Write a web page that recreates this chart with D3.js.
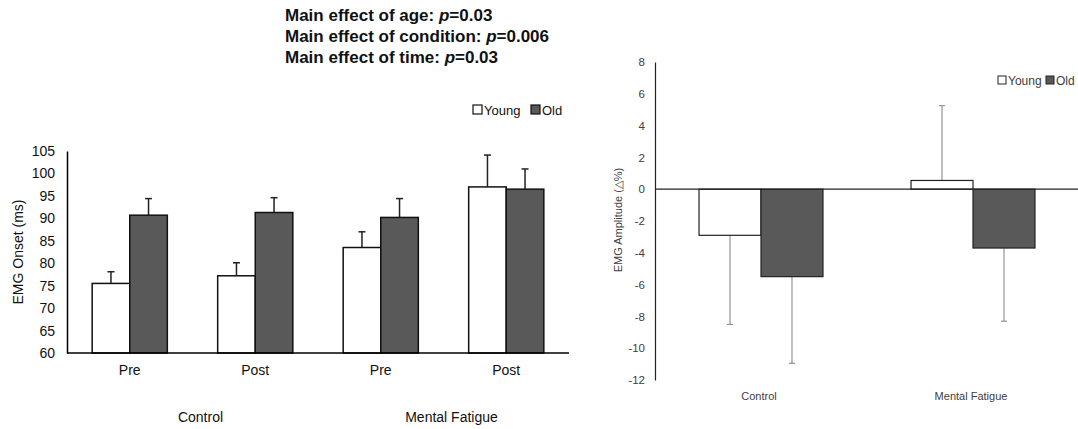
<!DOCTYPE html>
<html>
<head>
<meta charset="utf-8">
<script src="https://cdn.jsdelivr.net/npm/d3@7"></script>
<style>
  body { margin: 0; background: #fff; }
  svg { display: block; font-family: "Liberation Sans", Arial, sans-serif; }
</style>
</head>
<body>
<div id="chart"></div>
<script>
// ---- data ----
const seriesNames = ['Young', 'Old'];
const seriesColors = ['#ffffff', '#595959'];

// left panel: EMG onset (ms)
const onsetCategories = ['Pre', 'Post', 'Pre', 'Post'];
const onsetGroups = ['Control', 'Mental Fatigue'];
const onsetYoung = [75.5, 77.2, 83.5, 97.0];
const onsetYoungErr = [2.6, 2.9, 3.5, 7.1];
const onsetOld = [90.7, 91.3, 90.2, 96.5];
const onsetOldErr = [3.7, 3.3, 4.2, 4.5];
const onsetTicks = [60, 65, 70, 75, 80, 85, 90, 95, 100, 105];

// right panel: EMG amplitude (delta %)
const ampCategories = ['Control', 'Mental Fatigue'];
const ampYoung = [-2.9, 0.55];
const ampYoungErr = [5.6, 4.7];
const ampOld = [-5.5, -3.7];
const ampOldErr = [5.45, 4.6];
const ampTicks = [-12, -10, -8, -6, -4, -2, 0, 2, 4, 6, 8];

const titleLines = [
  ['Main effect of age: ', '0.03'],
  ['Main effect of condition: ', '0.006'],
  ['Main effect of time: ', '0.03']
];

const W = 1078, H = 429;
const svg = d3.select('#chart').append('svg')
  .attr('width', W).attr('height', H);

// ---- title ----
const title = svg.append('g').attr('font-weight', 'bold').attr('font-size', 17).attr('fill', '#111');
titleLines.forEach((l, i) => {
  const t = title.append('text').attr('x', 285).attr('y', 21 + i * 20.8);
  t.append('tspan').text(l[0]);
  t.append('tspan').attr('font-style', 'italic').text('p');
  t.append('tspan').text('=' + l[1]);
});

// ---- left panel ----
const left = svg.append('g');
const y1 = d3.scaleLinear().domain([60, 105]).range([353, 151]);
const x1 = d3.scaleBand().domain(d3.range(onsetCategories.length)).range([67, 569]);
const xs1 = d3.scaleBand().domain(seriesNames).range([0, x1.bandwidth()]).paddingOuter(0.67);

left.append('g')
  .attr('transform', 'translate(67,0)')
  .call(d3.axisLeft(y1).tickValues(onsetTicks).tickFormat(d => String(d))
    .tickSize(0).tickSizeOuter(0).tickPadding(12))
  .call(g => g.select('.domain').attr('stroke', '#000').attr('stroke-width', 1.5))
  .call(g => g.selectAll('.tick text').attr('font-size', 14).attr('fill', '#111')
    .attr('font-family', '"Liberation Sans", Arial, sans-serif'));

left.append('text')
  .attr('transform', 'translate(23,252) rotate(-90)')
  .attr('text-anchor', 'middle').attr('font-size', 14).attr('fill', '#111')
  .text('EMG Onset (ms)');

const onsetSeries = [
  { name: 'Young', values: onsetYoung, err: onsetYoungErr, color: seriesColors[0] },
  { name: 'Old', values: onsetOld, err: onsetOldErr, color: seriesColors[1] }
];

onsetSeries.forEach(s => {
  s.values.forEach((v, i) => {
    const bx = x1(i) + xs1(s.name);
    const cx = bx + xs1.bandwidth() / 2;
    const top = y1(v + s.err[i]);
    left.append('line')
      .attr('x1', cx).attr('x2', cx).attr('y1', y1(v)).attr('y2', top)
      .attr('stroke', '#222').attr('stroke-width', 1.5);
    left.append('line')
      .attr('x1', cx - 3.5).attr('x2', cx + 3.5).attr('y1', top).attr('y2', top)
      .attr('stroke', '#222').attr('stroke-width', 1.5);
    left.append('rect')
      .attr('x', bx).attr('y', y1(v))
      .attr('width', xs1.bandwidth()).attr('height', y1(60) - y1(v))
      .attr('fill', s.color).attr('stroke', '#111').attr('stroke-width', 1.5);
  });
});

left.append('line')
  .attr('x1', 67).attr('x2', 569).attr('y1', y1(60)).attr('y2', y1(60))
  .attr('stroke', '#000').attr('stroke-width', 1.5);

left.selectAll('.cat').data(onsetCategories).enter().append('text')
  .attr('x', (d, i) => x1(i) + x1.bandwidth() / 2)
  .attr('y', 375).attr('text-anchor', 'middle').attr('font-size', 14).attr('fill', '#111')
  .text(d => d);

left.selectAll('.grp').data(onsetGroups).enter().append('text')
  .attr('x', (d, i) => x1(i * 2 + 1) + 8)
  .attr('y', 422).attr('text-anchor', 'middle').attr('font-size', 14).attr('fill', '#111')
  .text(d => d);

// legend left
const leg1 = left.append('g').attr('transform', 'translate(473,110)');
const leg1Pos = [0, 58];
seriesNames.forEach((n, i) => {
  leg1.append('rect').attr('x', leg1Pos[i]).attr('y', -5).attr('width', 9).attr('height', 9)
    .attr('fill', seriesColors[i]).attr('stroke', '#111').attr('stroke-width', 1.2);
  leg1.append('text').attr('x', leg1Pos[i] + 11).attr('y', 5)
    .attr('font-size', 13).attr('fill', '#111').text(n);
});

// ---- right panel ----
const right = svg.append('g');
const y2 = d3.scaleLinear().domain([-12, 8]).range([380, 62]);
const x2 = d3.scaleBand().domain(ampCategories).range([655, 1079]);
const xs2 = d3.scaleBand().domain(seriesNames).range([0, x2.bandwidth()]).paddingOuter(0.71);

right.append('g')
  .attr('transform', 'translate(655,0)')
  .call(d3.axisLeft(y2).tickValues(ampTicks).tickFormat(d => String(d))
    .tickSize(0).tickSizeOuter(0).tickPadding(10))
  .call(g => g.select('.domain').attr('stroke', '#222').attr('stroke-width', 1.2))
  .call(g => g.selectAll('.tick text').attr('font-size', 11.5).attr('fill', '#404040')
    .attr('font-family', '"Liberation Sans", Arial, sans-serif'));

right.append('text')
  .attr('transform', 'translate(622,220) rotate(-90)')
  .attr('text-anchor', 'middle').attr('font-size', 11).attr('fill', '#404040')
  .text('EMG Amplitude (\u25B3%)');

const ampSeries = [
  { name: 'Young', values: ampYoung, err: ampYoungErr, color: seriesColors[0] },
  { name: 'Old', values: ampOld, err: ampOldErr, color: seriesColors[1] }
];

ampSeries.forEach(s => {
  s.values.forEach((v, i) => {
    const cat = ampCategories[i];
    const bx = x2(cat) + xs2(s.name);
    const cx = bx + xs2.bandwidth() / 2;
    const end = y2(v + Math.sign(v) * s.err[i]);
    right.append('line')
      .attr('x1', cx).attr('x2', cx).attr('y1', y2(v)).attr('y2', end)
      .attr('stroke', '#808080').attr('stroke-width', 1);
    right.append('line')
      .attr('x1', cx - 3).attr('x2', cx + 3).attr('y1', end).attr('y2', end)
      .attr('stroke', '#808080').attr('stroke-width', 1);
    right.append('rect')
      .attr('x', bx).attr('y', Math.min(y2(v), y2(0)))
      .attr('width', xs2.bandwidth()).attr('height', Math.abs(y2(v) - y2(0)))
      .attr('fill', s.color).attr('stroke', '#222').attr('stroke-width', 1.2);
  });
});

right.append('line')
  .attr('x1', 655).attr('x2', 1078).attr('y1', y2(0)).attr('y2', y2(0))
  .attr('stroke', '#222').attr('stroke-width', 1.2);

right.selectAll('.cat').data(ampCategories).enter().append('text')
  .attr('x', d => x2(d) + x2.bandwidth() / 2 - 2)
  .attr('y', 400).attr('text-anchor', 'middle').attr('font-size', 11).attr('fill', '#404040')
  .text(d => d);

// legend right
const leg2 = right.append('g').attr('transform', 'translate(998,80)');
const leg2Pos = [0, 48];
seriesNames.forEach((n, i) => {
  leg2.append('rect').attr('x', leg2Pos[i]).attr('y', -4).attr('width', 8).attr('height', 8)
    .attr('fill', seriesColors[i]).attr('stroke', '#222').attr('stroke-width', 1);
  leg2.append('text').attr('x', leg2Pos[i] + 10).attr('y', 4.5)
    .attr('font-size', 12).attr('fill', '#404040').text(n);
});
</script>
</body>
</html>
